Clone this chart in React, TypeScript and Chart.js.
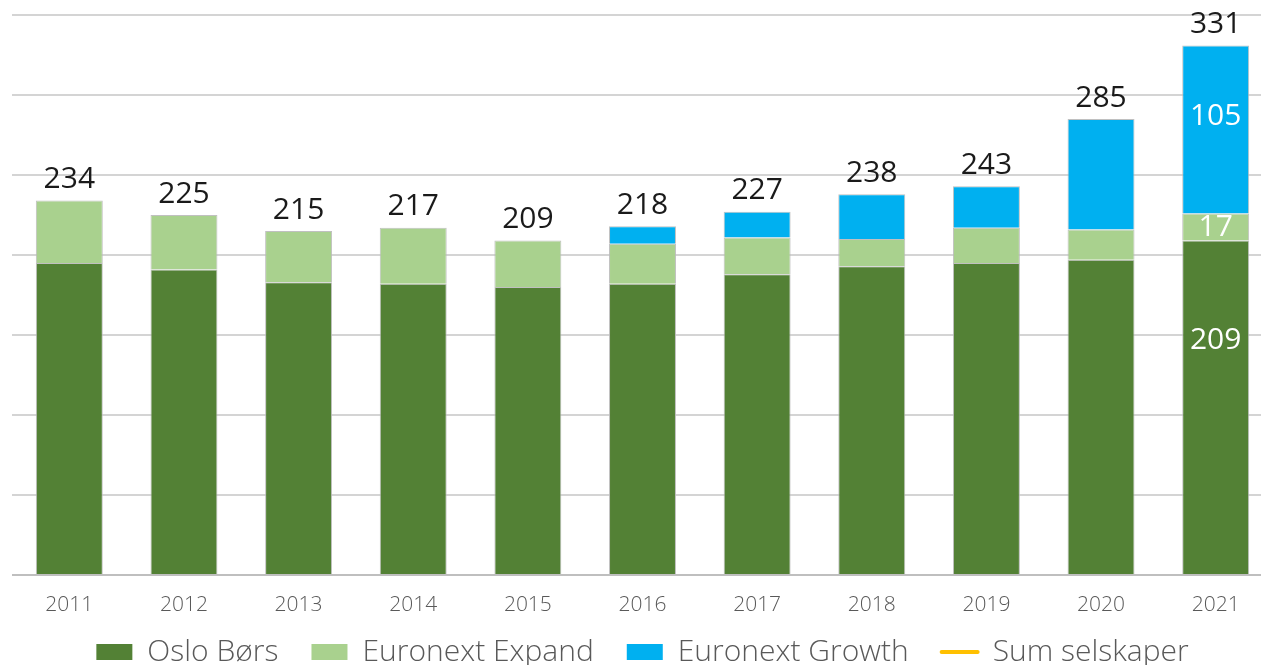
import React, { useEffect, useRef } from "react";
import { Chart, registerables } from "chart.js";

Chart.register(...registerables);

const years = ["2011", "2012", "2013", "2014", "2015", "2016", "2017", "2018", "2019", "2020", "2021"];
const osloBors = [195, 191, 183, 182, 180, 182, 188, 193, 195, 197, 209];
const euronextExpand = [39, 34, 32, 35, 29, 25, 23, 17, 22, 19, 17];
const euronextGrowth = [null, null, null, null, null, 11, 16, 28, 26, 69, 105];
const sumSelskaper = [234, 225, 215, 217, 209, 218, 227, 238, 243, 285, 331];

const FONT = "'Open Sans', 'Noto Sans', sans-serif";

const labelPlugin = {
  id: "valueLabels",
  afterLayout(chart: any) {
    // let x tick labels draw below the compact axis box without clipping
    const x = chart.scales.x;
    if (x) x.bottom = x.top + 50;
  },
  afterDatasetsDraw(chart: any) {
    const ctx = chart.ctx;
    ctx.save();
    ctx.textAlign = "center";
    ctx.textBaseline = "middle";
    ctx.font = `400 30px ${FONT}`;
    const sumMeta = chart.getDatasetMeta(3);
    ctx.fillStyle = "#1a1a1a";
    sumMeta.data.forEach((pt: any, i: number) => {
      if (sumSelskaper[i] == null) return;
      ctx.fillText(String(sumSelskaper[i]), pt.x, pt.y - 21);
    });
    const last = years.length - 1;
    const fracs = [0.3, 0.5, 0.42];
    ctx.fillStyle = "#ffffff";
    [0, 1, 2].forEach((di) => {
      const meta = chart.getDatasetMeta(di);
      const el: any = meta.data[last];
      const v = chart.data.datasets[di].data[last];
      if (!el || v == null) return;
      const top = Math.min(el.y, el.base);
      const h = Math.abs(el.base - el.y);
      ctx.fillText(String(v), el.x, top + h * fracs[di]);
    });
    ctx.restore();
  },
};

export default function App() {
  const canvasRef = useRef<HTMLCanvasElement | null>(null);

  useEffect(() => {
    if (!canvasRef.current) return;
    const barBorder = "rgba(185,185,185,0.9)";
    const chart = new Chart(canvasRef.current, {
      type: "bar",
      data: {
        labels: years,
        datasets: [
          {
            label: "Oslo Børs",
            data: osloBors,
            backgroundColor: "#538135",
            borderColor: barBorder,
            borderWidth: 1,
            stack: "s",
          },
          {
            label: "Euronext Expand",
            data: euronextExpand,
            backgroundColor: "#A9D18E",
            borderColor: barBorder,
            borderWidth: 1,
            stack: "s",
          },
          {
            label: "Euronext Growth",
            data: euronextGrowth as any,
            backgroundColor: "#00B0F0",
            borderColor: barBorder,
            borderWidth: 1,
            stack: "s",
          },
          {
            type: "line" as any,
            label: "Sum selskaper",
            data: sumSelskaper,
            borderColor: "#FFC000",
            backgroundColor: "#FFC000",
            borderWidth: 4,
            borderCapStyle: "round",
            showLine: false,
            pointRadius: 0,
            stack: "sum",
          } as any,
        ],
      },
      options: {
        animation: false,
        responsive: true,
        maintainAspectRatio: false,
        layout: { padding: { left: 12, top: 15, right: 1, bottom: 0 } },
        datasets: {
          bar: { barPercentage: 0.584, categoryPercentage: 1 },
        },
        scales: {
          x: {
            stacked: true,
            grid: { display: false, drawTicks: false },
            border: { display: false },
            ticks: {
              padding: 17,
              color: "#595959",
              font: { family: FONT, size: 21, weight: "300" as any },
            },
            afterFit: (s: any) => {
              s.height = 29;
            },
          },
          y: {
            stacked: true,
            min: 0,
            max: 350,
            ticks: { display: false, stepSize: 50 },
            border: { display: false },
            grid: {
              drawTicks: false,
              lineWidth: 2,
              color: (c: any) => (c.tick && c.tick.value === 0 ? "#BFBFBF" : "#D4D4D4"),
            },
          },
        },
        plugins: {
          tooltip: { enabled: false },
          legend: {
            position: "bottom",
            fullSize: false,
            labels: {
              color: "#595959",
              font: { family: FONT, size: 30, weight: "300" as any },
              padding: 33,
              usePointStyle: true,
              pointStyleWidth: 36,
              boxHeight: 16,
              generateLabels: (ch: any) => {
                const items = Chart.defaults.plugins.legend.labels.generateLabels(ch);
                return items.map((it: any) => {
                  if (it.datasetIndex === 3) {
                    it.pointStyle = "line";
                    it.lineWidth = 4;
                    it.lineCap = "round";
                  } else {
                    it.pointStyle = "rect";
                    it.lineWidth = 0;
                  }
                  return it;
                });
              },
            },
          },
        },
      },
      plugins: [labelPlugin],
    });
    return () => chart.destroy();
  }, []);

  return (
    <div style={{ position: "fixed", left: 0, top: 0, width: 1261, height: 665, overflow: "hidden", background: "#fff" }}>
      <div style={{ position: "absolute", left: 0, top: 0, width: 1274, height: 677 }}>
        <canvas ref={canvasRef} />
      </div>
    </div>
  );
}
